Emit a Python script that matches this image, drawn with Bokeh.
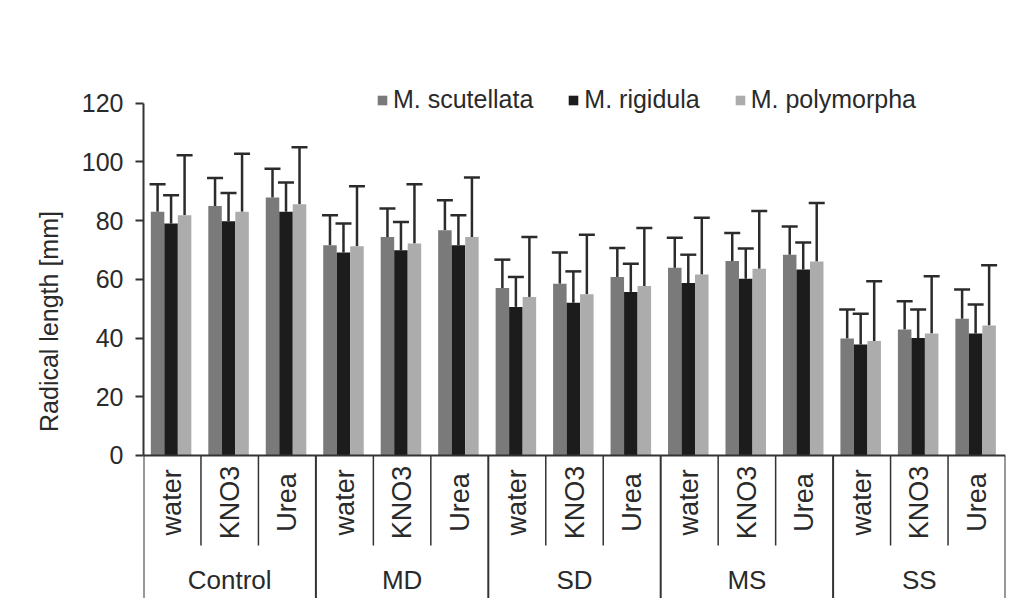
import numpy as np
from bokeh.plotting import figure
from bokeh.models import (ColumnDataSource, Range1d, FixedTicker, Whisker, TeeHead,
                          Legend, LegendItem)
from bokeh.core.properties import value
from bokeh.embed import file_html
from bokeh.resources import INLINE

groups = ["Control", "MD", "SD", "MS", "SS"]
treatments = ["water", "KNO3", "Urea"]
species = ["M. scutellata", "M. rigidula", "M. polymorpha"]

# means (order: Control water, KNO3, Urea, MD water, ..., SS Urea)
scutellata = [83, 85, 87.9, 71.6, 74.4, 76.7, 57, 58.5, 60.8, 63.9, 66.2, 68.4, 39.8, 42.9, 46.6]
rigidula = [79, 79.8, 83, 69.1, 69.9, 71.6, 50.6, 52, 55.7, 58.7, 60.2, 63.3, 37.8, 40, 41.5]
polymorpha = [81.8, 83, 85.6, 71.3, 72.2, 74.4, 54, 54.9, 57.7, 61.6, 63.6, 66.1, 39, 41.5, 44.3]
# standard deviations
scutellata_sd = [9.4, 9.5, 9.8, 10.2, 9.7, 10.2, 9.7, 10.6, 9.9, 10.3, 9.6, 9.6, 9.9, 9.6, 9.9]
rigidula_sd = [9.6, 9.6, 10, 9.9, 9.6, 10.2, 10.2, 10.7, 9.6, 9.7, 10.3, 9.2, 10.5, 9.7, 9.9]
polymorpha_sd = [20.5, 19.8, 19.4, 20.4, 20.2, 20.3, 20.4, 20.3, 19.8, 19.4, 19.7, 19.9, 20.3, 19.5, 20.5]

y_ticks = [0, 20, 40, 60, 80, 100, 120]

colors = ["#7a7a7a", "#1c1c1c", "#acacac"]
FONT = "Liberation Sans"
TXT = "#2a2a2a"

n = len(groups) * len(treatments)
idx = np.arange(n)
centers = idx + 0.48
bw = 0.235
offsets = [-bw, 0.0, bw]
Y_BOTTOM = -48.75

p = figure(width=1016, height=598, output_backend="svg", toolbar_location=None,
           x_range=Range1d(0, n), y_range=Range1d(Y_BOTTOM, 140),
           min_border_left=143, min_border_right=11, min_border_top=44, min_border_bottom=0,
           x_axis_type=None)
p.outline_line_color = None
p.grid.visible = False
p.background_fill_color = "white"
p.border_fill_color = "white"

ax = p.yaxis[0]
ax.ticker = FixedTicker(ticks=y_ticks)
ax.bounds = (0, 120)
ax.axis_line_width = 2
ax.axis_line_color = "#333333"
ax.major_tick_line_width = 2
ax.major_tick_line_color = "#333333"
ax.major_tick_out = 8
ax.major_tick_in = 0
ax.minor_tick_line_color = None
ax.major_label_text_font = FONT
ax.major_label_text_font_size = "25px"
ax.major_label_text_color = TXT
ax.major_label_standoff = 12
ax.axis_label = "Radical length [mm]"
ax.axis_label_text_font = FONT
ax.axis_label_text_font_size = "25px"
ax.axis_label_text_font_style = "normal"
ax.axis_label_text_color = TXT
ax.axis_label_standoff = 16

renderers = []
for k, (vals, sds) in enumerate([(scutellata, scutellata_sd), (rigidula, rigidula_sd),
                                  (polymorpha, polymorpha_sd)]):
    xs = centers + offsets[k]
    vals = np.array(vals, dtype=float)
    sds = np.array(sds, dtype=float)
    src = ColumnDataSource(dict(x=xs, top=vals, upper=vals + sds))
    r = p.vbar(x="x", top="top", width=bw, bottom=0, source=src,
               fill_color=colors[k], line_color=None)
    renderers.append(r)
    p.add_layout(Whisker(source=src, base="x", lower="top", upper="upper",
                         line_color="#2b2b2b", line_width=2.5, lower_head=None,
                         upper_head=TeeHead(size=16, line_color="#2b2b2b", line_width=2.5)))

# category box lines
line_c = "#333333"
p.segment(x0=[0], y0=[0], x1=[n], y1=[0], line_color=line_c, line_width=2)
sub_x = [i for i in range(1, n) if i % 3 != 0]
p.segment(x0=sub_x, y0=[0] * len(sub_x), x1=sub_x, y1=[-30.7] * len(sub_x),
          line_color=line_c, line_width=1.5)
grp_x = list(range(0, n + 1, 3))
p.segment(x0=grp_x, y0=[0] * len(grp_x), x1=grp_x, y1=[Y_BOTTOM] * len(grp_x),
          line_color=line_c, line_width=2)

sub_labels = [t for g in groups for t in treatments]
p.text(x=list(idx + 0.5), y=[-16.0] * n, text=sub_labels, angle=np.pi / 2,
       text_align="center", text_baseline="middle", text_font=value(FONT),
       text_font_size="27px", text_color=TXT)
p.text(x=[3 * g + 1.5 for g in range(len(groups))], y=[-42.6] * len(groups), text=groups,
       text_align="center", text_baseline="middle", text_font=value(FONT),
       text_font_size="26px", text_color=TXT)

legend = Legend(items=[LegendItem(label=species[k], renderers=[renderers[k]]) for k in range(3)],
                orientation="horizontal", location=(233, 484), padding=0, margin=0,
                glyph_width=12, glyph_height=12, label_standoff=5, spacing=34,
                label_text_font=FONT, label_text_font_size="25px", label_text_color=TXT,
                border_line_color=None, background_fill_alpha=0)
p.add_layout(legend)

open("out.html", "w").write(file_html(p, INLINE))
